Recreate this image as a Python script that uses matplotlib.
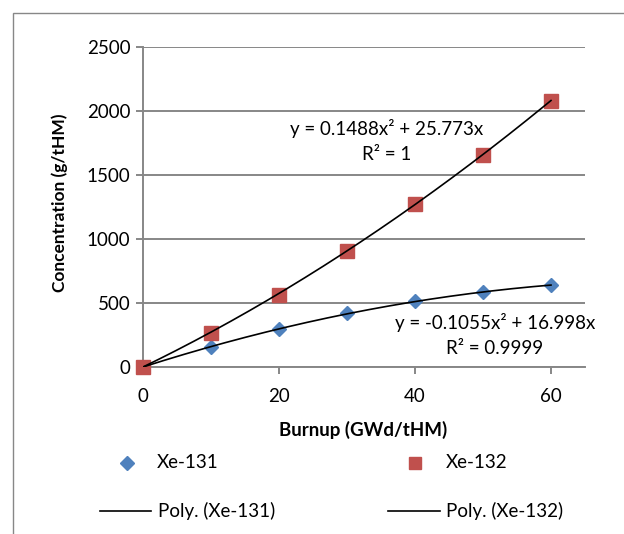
import matplotlib
matplotlib.use('Agg')
import matplotlib.pyplot as plt
from matplotlib.lines import Line2D
from matplotlib.patches import Rectangle
import numpy as np

plt.rcParams['font.family'] = ['Lato', 'DejaVu Sans']

# data
burnup = [0, 10, 20, 30, 40, 50, 60]
xe131 = [0, 154, 298, 420, 513, 588, 638]
xe132 = [0, 269, 566, 904, 1271, 1657, 2077]

# trendline coefficients (shown on the chart)
a131, b131 = -0.1055, 16.998
a132, b132 = 0.1488, 25.773

W, H = 624, 534
fig = plt.figure(figsize=(W / 100, H / 100), dpi=100)


def fx(px):
    return px / W


def fy(py):
    return 1 - py / H


grey = '#878787'

# outer chart border
fig.add_artist(Rectangle((fx(13), -0.1), 1.2, fy(13) + 0.1, transform=fig.transFigure,
                         fill=False, edgecolor=grey, linewidth=1.0))

ax = fig.add_axes([fx(143), fy(367), fx(585) - fx(143), fy(47) - fy(367)])
ax.set_xlim(0, 65)
ax.set_ylim(0, 2500)
ax.set_xticks([0, 20, 40, 60])
ax.set_yticks([0, 500, 1000, 1500, 2000, 2500])
ax.yaxis.grid(True, color=grey, linewidth=1.4)
ax.set_axisbelow(True)
for s in ['top', 'right']:
    ax.spines[s].set_visible(False)
ax.spines['left'].set_color(grey)
ax.spines['left'].set_linewidth(1.4)
ax.spines['bottom'].set_color(grey)
ax.spines['bottom'].set_linewidth(1.4)
ax.tick_params(axis='both', direction='out', length=5, width=1.4, color=grey,
               labelsize=13.5, pad=4)
ax.tick_params(axis='x', pad=10)
ax.patch.set_alpha(0)

# trend lines
xx = np.linspace(0, 60, 200)
ax.plot(xx, a131 * xx ** 2 + b131 * xx, color='black', linewidth=1.2, zorder=4)
ax.plot(xx, a132 * xx ** 2 + b132 * xx, color='black', linewidth=1.2, zorder=4)

# markers
ax.plot(burnup, xe131, linestyle='none', marker='D', markersize=7.5,
        color='#4F81BD', markeredgecolor='#4F81BD', zorder=3, clip_on=False)
ax.plot(burnup, xe132, linestyle='none', marker='s', markersize=10.5,
        color='#C0504D', markeredgecolor='#C0504D', zorder=3, clip_on=False)

ax.set_xlabel('Burnup (GWd/tHM)', fontsize=13.5, fontweight='bold')
ax.set_ylabel('Concentration (g/tHM)', fontsize=12.5, fontweight='bold')
ax.xaxis.set_label_coords((fx(363) - fx(143)) / (fx(585) - fx(143)), (fy(430) - fy(367)) / (fy(47) - fy(367)))
ax.xaxis.label.set_va('center')
ax.yaxis.set_label_coords((fx(60) - fx(143)) / (fx(585) - fx(143)), (fy(203) - fy(367)) / (fy(47) - fy(367)))
ax.yaxis.label.set_va('center')

# trendline equations
fig.text(fx(387), fy(129), 'y = 0.1488x² + 25.773x', fontsize=13.5, ha='center', va='center')
fig.text(fx(387), fy(155), 'R² = 1', fontsize=13.5, ha='center', va='center')
fig.text(fx(495), fy(322), 'y = -0.1055x² + 16.998x', fontsize=13.5, ha='center', va='center')
fig.text(fx(495), fy(348), 'R² = 0.9999', fontsize=13.5, ha='center', va='center')

# legend
fig.add_artist(Line2D([fx(127)], [fy(463)], marker='D', markersize=7, linestyle='none',
                      color='#4F81BD', transform=fig.transFigure))
fig.text(fx(157), fy(463), 'Xe-131', fontsize=13.5, va='center')
fig.add_artist(Line2D([fx(415)], [fy(463)], marker='s', markersize=8.5, linestyle='none',
                      color='#C0504D', transform=fig.transFigure))
fig.text(fx(446), fy(463), 'Xe-132', fontsize=13.5, va='center')
fig.add_artist(Line2D([fx(100), fx(151)], [fy(511), fy(511)], color='black', linewidth=1.2,
                      transform=fig.transFigure))
fig.text(fx(158), fy(511), 'Poly. (Xe-131)', fontsize=13.5, va='center')
fig.add_artist(Line2D([fx(388), fx(440)], [fy(511), fy(511)], color='black', linewidth=1.2,
                      transform=fig.transFigure))
fig.text(fx(446), fy(511), 'Poly. (Xe-132)', fontsize=13.5, va='center')

fig.savefig('out.png', dpi=100)
